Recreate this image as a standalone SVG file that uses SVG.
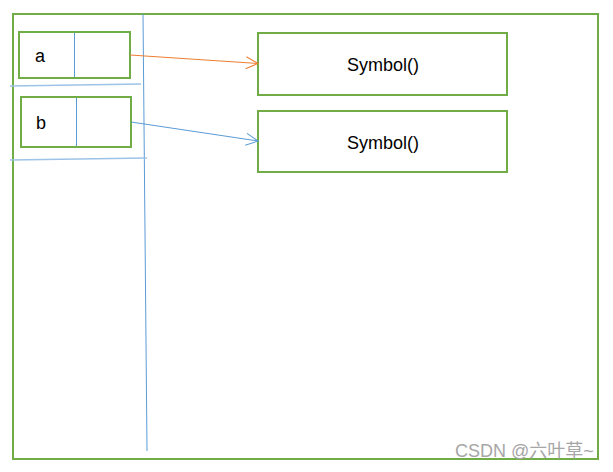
<svg xmlns="http://www.w3.org/2000/svg" width="613" height="472" viewBox="0 0 613 472">
  <style>
    .box { fill: #ffffff; stroke: #70AD47; stroke-width: 2; }
    .frame { fill: none; stroke: #70AD47; stroke-width: 2; }
    .div { stroke: #5B9BD5; stroke-width: 1; fill: none; }
    .sep { stroke: #9DC3E6; stroke-width: 1.5; fill: none; }
    .lbl { font-family: "Liberation Sans", Arial, sans-serif; font-size: 18px; fill: #000000; }
    .wm { font-family: "Liberation Sans", "Noto Sans CJK SC", sans-serif; font-size: 18px; fill: #a6a6a6; }
  </style>
  <defs>
    <marker id="arrOrange" markerWidth="14" markerHeight="14" refX="13" refY="7" orient="auto" markerUnits="userSpaceOnUse">
      <path d="M1,1 L13,7 L1,13" fill="none" stroke="#ED7D31" stroke-width="1"/>
    </marker>
    <marker id="arrBlue" markerWidth="14" markerHeight="14" refX="13" refY="7" orient="auto" markerUnits="userSpaceOnUse">
      <path d="M1,1 L13,7 L1,13" fill="none" stroke="#5B9BD5" stroke-width="1"/>
    </marker>
  </defs>
  <rect width="613" height="472" fill="#ffffff"/>

  <g id="frame">
    <rect class="frame" x="13" y="14" width="585" height="445"/>
  </g>

  <g id="stack-lines">
    <line class="div" x1="143" y1="14" x2="147" y2="451"/>
    <line class="sep" x1="10" y1="86" x2="141" y2="84"/>
    <line class="sep" x1="10" y1="160" x2="147" y2="158"/>
  </g>

  <g id="node-a">
    <rect class="box" x="19" y="32" width="111" height="46"/>
    <line class="div" x1="74.5" y1="33" x2="74.5" y2="77"/>
    <text class="lbl" x="35" y="62">a</text>
  </g>

  <g id="node-b">
    <rect class="box" x="21" y="97" width="110" height="50"/>
    <line class="div" x1="76.5" y1="98" x2="76.5" y2="146"/>
    <text class="lbl" x="36" y="129">b</text>
  </g>

  <g id="node-symbol1">
    <rect class="box" x="258" y="33" width="249" height="62"/>
    <text class="lbl" x="383" y="71" text-anchor="middle" font-size="18.5">Symbol()</text>
  </g>

  <g id="node-symbol2">
    <rect class="box" x="258" y="111" width="249" height="61"/>
    <text class="lbl" x="383" y="149" text-anchor="middle" font-size="18.5">Symbol()</text>
  </g>

  <g id="connectors">
    <line x1="130" y1="55" x2="258" y2="63.5" stroke="#ED7D31" stroke-width="1" marker-end="url(#arrOrange)"/>
    <line x1="131" y1="122" x2="258" y2="141" stroke="#5B9BD5" stroke-width="1" marker-end="url(#arrBlue)"/>
  </g>

  <g id="watermark">
    <text class="wm" x="455" y="457">CSDN @六叶草~</text>
  </g>
</svg>
